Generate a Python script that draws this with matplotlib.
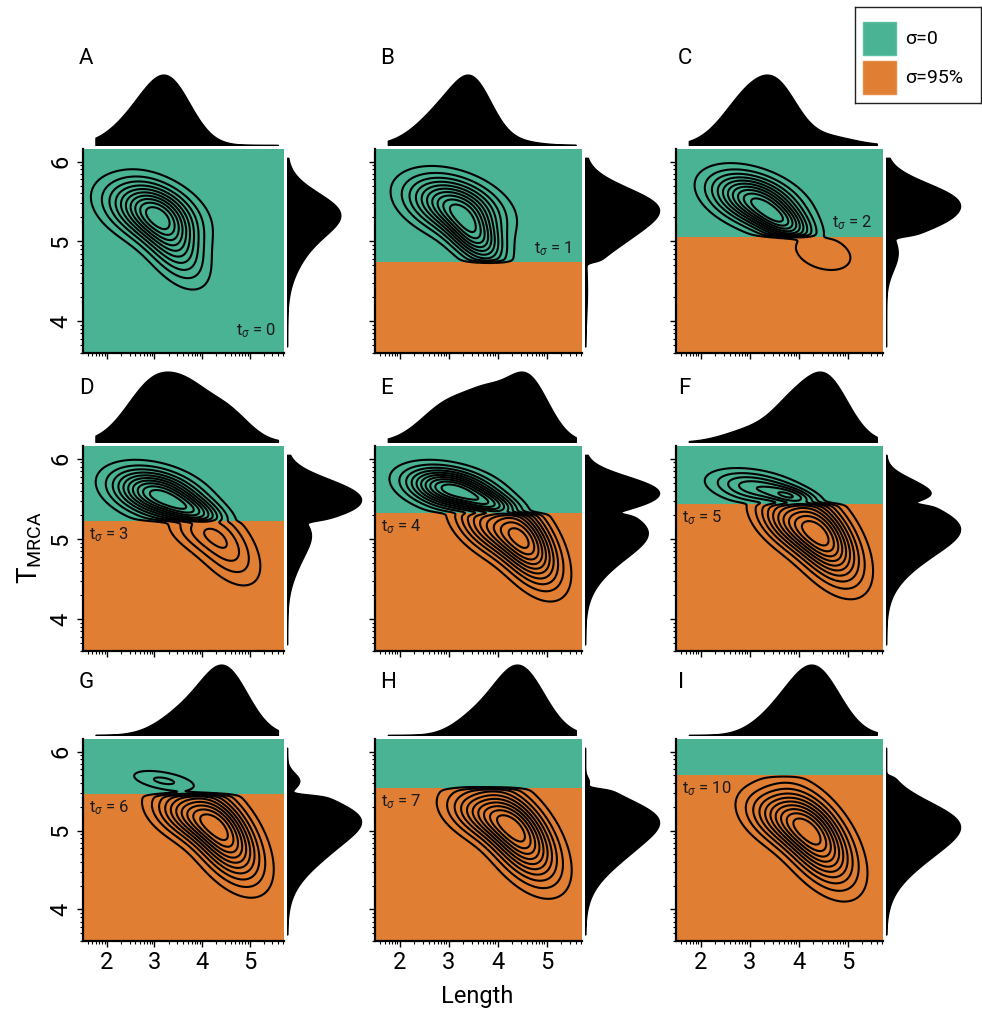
import numpy as np
import matplotlib.pyplot as plt
from matplotlib.patches import Rectangle

plt.rcParams['font.family'] = ['Roboto', 'DejaVu Sans']
plt.rcParams['mathtext.fontset'] = 'custom'
plt.rcParams['mathtext.rm'] = 'Roboto'
plt.rcParams['mathtext.it'] = 'Roboto:italic'

GREEN = '#4ab394'
ORANGE = '#e07e34'

panel_letters = ['A', 'B', 'C', 'D', 'E', 'F', 'G', 'H', 'I']
t_sigma = [0, 1, 2, 3, 4, 5, 6, 7, 10]
# log10 TMRCA at which sigma switches from 0 to 95%
switch_tmrca = [None, 4.74, 5.06, 5.22, 5.32, 5.44, 5.46, 5.54, 5.70]

# density components: (len, tmrca, sd len, sd tmrca, corr, weight, side)
# side +1 keeps the part above the switch, -1 the part below, 0 no cut
comp_A = [(2.92, 5.38, 0.62, 0.25, -0.35, 0.62, 0),
          (3.35, 5.02, 0.45, 0.34, -0.55, 0.38, 0)]
comp_B = [(3.10, 5.45, 0.62, 0.24, -0.35, 0.68, 1),
          (3.55, 5.05, 0.38, 0.24, -0.50, 0.32, 1),
          (4.40, 4.40, 0.50, 0.35, -0.50, 0.03, -1)]
comp_C = [(3.10, 5.52, 0.58, 0.22, -0.40, 0.67, 1),
          (3.70, 5.22, 0.40, 0.17, -0.50, 0.23, 1),
          (4.50, 4.86, 0.56, 0.22, -0.30, 0.12, -1)]
comp_D = [(3.05, 5.56, 0.60, 0.20, -0.35, 0.55, 1),
          (3.85, 5.33, 0.45, 0.14, -0.50, 0.15, 1),
          (4.45, 4.95, 0.48, 0.33, -0.55, 0.24, -1),
          (3.80, 5.10, 0.42, 0.18, -0.40, 0.06, -1)]
comp_E = [(3.05, 5.62, 0.58, 0.17, -0.35, 0.34, 1),
          (3.90, 5.42, 0.40, 0.12, -0.50, 0.08, 1),
          (4.55, 4.98, 0.45, 0.36, -0.55, 0.45, -1),
          (3.75, 5.15, 0.45, 0.24, -0.50, 0.17, -1)]
comp_F = [(3.10, 5.64, 0.58, 0.14, -0.35, 0.15, 1),
          (3.90, 5.52, 0.35, 0.09, -0.50, 0.05, 1),
          (4.50, 5.03, 0.48, 0.37, -0.55, 0.60, -1),
          (3.75, 5.20, 0.45, 0.24, -0.50, 0.20, -1)]
comp_G = [(3.20, 5.63, 0.50, 0.10, -0.50, 0.04, 1),
          (4.45, 4.95, 0.50, 0.38, -0.55, 0.62, -1),
          (3.65, 5.20, 0.50, 0.22, -0.40, 0.22, -1)]
comp_H = [(3.30, 5.62, 0.30, 0.06, 0.00, 0.008, 1),
          (4.45, 4.94, 0.50, 0.38, -0.55, 0.68, -1),
          (3.65, 5.20, 0.50, 0.22, -0.40, 0.22, -1)]
comp_I = [(4.35, 4.90, 0.50, 0.38, -0.55, 0.68, -1),
          (3.60, 5.15, 0.50, 0.24, -0.40, 0.24, -1)]
components = [comp_A, comp_B, comp_C, comp_D, comp_E,
              comp_F, comp_G, comp_H, comp_I]

# span of the data used by the marginal densities
len_range = (1.75, 5.6)
tmrca_range = (3.68, 6.05)
side_extent = [0.72, 1, 1, 1, 1, 1, 1, 1, 1]

XLIM = (1.5, 5.72)
YLIM = (3.6, 6.16)

W, H = 982, 1018
col_px = [(83, 284), (375, 582), (676, 883)]
row_px = [(149, 353), (446, 651), (739, 941)]
letter_x = [79, 380, 678]
letter_y = [59, 388, 683]

gx = np.linspace(1.3, 5.9, 360)
gy = np.linspace(3.4, 6.3, 360)
X, Y = np.meshgrid(gx, gy)


def density(comps, thr):
    z = np.zeros_like(X)
    for mx, my, sx, sy, r, w, side in comps:
        dx = (X - mx) / sx
        dy = (Y - my) / sy
        q = (dx**2 - 2 * r * dx * dy + dy**2) / (1 - r**2)
        g = w * np.exp(-0.5 * q) / (2 * np.pi * sx * sy * np.sqrt(1 - r**2))
        if side:
            g = g / (1 + np.exp(-side * (Y - thr) / 0.012))
        z += g
    return z


def add_px_axes(fig, left, top, right, bottom):
    return fig.add_axes([left / W, 1 - bottom / H,
                         (right - left) / W, (bottom - top) / H])


def log_minors(lo, hi):
    ticks = []
    for n in range(1, 7):
        for k in range(2, 10):
            v = n + np.log10(k)
            if lo < v < hi:
                ticks.append(v)
    return ticks


fig = plt.figure(figsize=(W / 100, H / 100), dpi=100)

for i in range(9):
    row, col = divmod(i, 3)
    l, r = col_px[col]
    t, b = row_px[row]
    thr = switch_tmrca[i]
    z = density(components[i], thr if thr else 0)

    ax = add_px_axes(fig, l, t, r, b)
    if thr is None:
        ax.axhspan(YLIM[0], YLIM[1], color=GREEN, lw=0, zorder=0)
    else:
        ax.axhspan(thr, YLIM[1], color=GREEN, lw=0, zorder=0)
        ax.axhspan(YLIM[0], thr, color=ORANGE, lw=0, zorder=0)
    ax.contour(X, Y, z, levels=z.max() * np.arange(1, 11) / 11,
               colors='black', linewidths=1.5)
    ax.set_xlim(XLIM)
    ax.set_ylim(YLIM)
    for s in ['top', 'right']:
        ax.spines[s].set_visible(False)
    for s in ['left', 'bottom']:
        ax.spines[s].set_linewidth(1.6)
    ax.set_xticks([2, 3, 4, 5])
    ax.set_yticks([4, 5, 6])
    ax.set_xticks(log_minors(*XLIM), minor=True)
    ax.set_yticks(log_minors(*YLIM), minor=True)
    ax.tick_params(which='major', length=4, width=1, direction='out')
    ax.tick_params(which='minor', length=2.5, width=0.8, direction='out')
    if row == 2:
        ax.set_xticklabels(['2', '3', '4', '5'], fontsize=17)
    else:
        ax.set_xticklabels([])
    if col == 0:
        ax.set_yticklabels(['4', '5', '6'], fontsize=17, rotation=90,
                           va='center')
    else:
        ax.set_yticklabels([])

    label = r'$\mathrm{t}_{\sigma}$ = %d' % t_sigma[i]
    if thr is None:
        ax.text(5.55, 3.88, label, ha='right', va='center', fontsize=12,
                color='#1a1a1a')
    elif i < 3:
        ax.text(5.5, thr + 0.17, label, ha='right', va='center',
                fontsize=12, color='#1a1a1a')
    else:
        ax.text(1.63, thr - 0.17, label, ha='left', va='center',
                fontsize=12, color='#1a1a1a')

    # marginal densities
    top_d = z.sum(axis=0)
    side_d = z.sum(axis=1)
    mx = (gx >= len_range[0]) & (gx <= len_range[1])
    my = (gy >= tmrca_range[0]) & (gy <= tmrca_range[1])

    axt = add_px_axes(fig, l, t - 80, r, t - 4)
    axt.fill_between(gx[mx], 0, top_d[mx] / top_d[mx].max(),
                     facecolor='black', edgecolor='black', lw=1)
    axt.set_xlim(XLIM)
    axt.set_ylim(0, 1.08)
    axt.axis('off')

    axr = add_px_axes(fig, r + 3, t, r + 80, b)
    axr.fill_betweenx(gy[my], 0,
                      side_extent[i] * side_d[my] / side_d[my].max(),
                      facecolor='black', edgecolor='black', lw=1)
    axr.set_ylim(YLIM)
    axr.set_xlim(0, 1.04)
    axr.axis('off')

    fig.text(letter_x[col] / W, 1 - letter_y[row] / H, panel_letters[i],
             fontsize=16, ha='left', va='center')

fig.text(477 / W, 1 - 997 / H, 'Length', fontsize=17, ha='center',
         va='center')
fig.text(30 / W, 1 - 548 / H, r'$\mathrm{T}_{\mathrm{MRCA}}$', fontsize=20,
         rotation=90, ha='center', va='center')

# legend
lg = add_px_axes(fig, 855, 7, 981, 103)
lg.set_xlim(0, 126)
lg.set_ylim(96, 0)
lg.set_xticks([])
lg.set_yticks([])
for s in lg.spines.values():
    s.set_linewidth(1)
    s.set_color('#222222')
lg.add_patch(Rectangle((8, 15), 33, 33, facecolor=GREEN,
                       edgecolor='#5cc2a2', lw=1))
lg.add_patch(Rectangle((8, 54), 33, 33, facecolor=ORANGE,
                       edgecolor='#e88d45', lw=1))
lg.text(50, 32, 'σ=0', fontsize=14, va='center', ha='left')
lg.text(50, 71, 'σ=95%', fontsize=14, va='center', ha='left')

fig.savefig('out.png', dpi=100)
